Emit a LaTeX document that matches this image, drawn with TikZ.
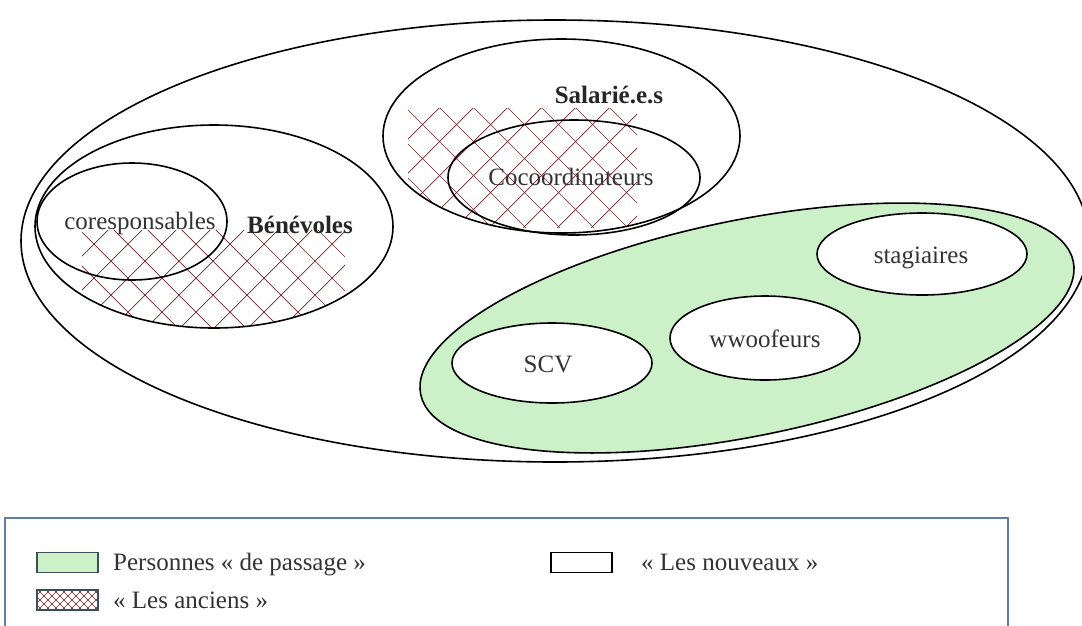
\documentclass[tikz,border=0pt]{standalone}
\usepackage{fontspec}
\setmainfont{Liberation Serif}
\definecolor{passage}{RGB}{204,240,200}
\definecolor{ancien}{RGB}{110,35,40}
\definecolor{cadre}{RGB}{95,125,165}
\definecolor{bord}{RGB}{60,80,90}

\begin{document}
\begin{tikzpicture}[x=1pt,y=-1pt,
  lbl/.style={font=\fontsize{25}{30}\selectfont, text=black!80, inner sep=0pt},
  bold/.style={font=\fontsize{25}{30}\selectfont\bfseries, text=black!85, inner sep=0pt},
  trait/.style={line width=1.6pt},
  hach/.style={draw=ancien, line width=0.7pt},
  swatch/.style={minimum width=61pt, minimum height=20pt, inner sep=0pt, line width=1.3pt}]
\useasboundingbox (0,0) rectangle (1082,625);

\draw[trait] (555,241) ellipse [x radius=534pt, y radius=221pt];

% les anciens
\begin{scope}
\clip (214,226.5) ellipse [x radius=179pt, y radius=101.5pt];
\clip (82,230) rectangle (345,332);
\foreach \d in {-320,-286,...,190} \draw[hach] ({\d+200},200) -- ({\d+360},360);
\foreach \s in {236,270,...,746} \draw[hach] ({\s-200},200) -- ({\s-360},360);
\end{scope}
\begin{scope}
\clip (561.5,136) ellipse [x radius=178.5pt, y radius=97pt];
\clip (408,108) rectangle (637,227);
\foreach \d in {162,196,...,536} \draw[hach] ({\d+90},90) -- ({\d+240},240);
\foreach \s in {513,547,...,887} \draw[hach] ({\s-90},90) -- ({\s-240},240);
\end{scope}

\draw[trait] (214,226.5) ellipse [x radius=179pt, y radius=101.5pt];
\draw[trait] (132,221.5) ellipse [x radius=95pt, y radius=58.5pt];
\draw[trait] (561.5,136) ellipse [x radius=178.5pt, y radius=97pt];
\draw[trait] (574,177.5) ellipse [x radius=126pt, y radius=57.5pt];

% personnes de passage
\draw[trait, fill=passage] (747,328) ellipse [x radius=333pt, y radius=108pt, rotate=11.5];
\draw[trait, fill=white] (922,254) ellipse [x radius=105pt, y radius=41pt];
\draw[trait, fill=white] (765,338) ellipse [x radius=95pt, y radius=42pt];
\draw[trait, fill=white] (552,363) ellipse [x radius=100pt, y radius=40pt];

\node[lbl, anchor=base] (v1) at (140,229) {coresponsables};
\node[bold, anchor=base] (v2) at (300,233) {Bénévoles};
\node[bold, anchor=base] (v3) at (609,103) {Salarié.e.s};
\node[lbl, anchor=base] (v4) at (571,185) {Cocoordinateurs};
\node[lbl, anchor=base] (v5) at (921,263) {stagiaires};
\node[lbl, anchor=base] (v6) at (765,347) {wwoofeurs};
\node[lbl, anchor=base] (v7) at (548,372) {SCV};

% legende
\draw[line width=1.8pt, draw=cadre] (5,518) rectangle (1008,660);
\node[swatch, draw=bord, fill=passage] (s1) at (67.5,562.5) {};
\node[lbl, anchor=base west] (v8) at (113,570) {Personnes «~de passage~»};
\node[swatch, draw=black] (s2) at (581.5,562.5) {};
\node[lbl, anchor=base west] (v9) at (641,570) {«~Les nouveaux~»};
\begin{scope}
\clip (37,590) rectangle (98,610);
\foreach \d in {-600,-592,...,-456} \draw[ancien, line width=0.6pt] ({\d+580},580) -- ({\d+620},620);
\foreach \s in {600,608,...,744} \draw[ancien, line width=0.6pt] ({\s-580},580) -- ({\s-620},620);
\end{scope}
\node[swatch, draw=bord] (s3) at (67.5,600) {};
\node[lbl, anchor=base west] (v10) at (113,608) {«~Les anciens~»};
\end{tikzpicture}
\end{document}
